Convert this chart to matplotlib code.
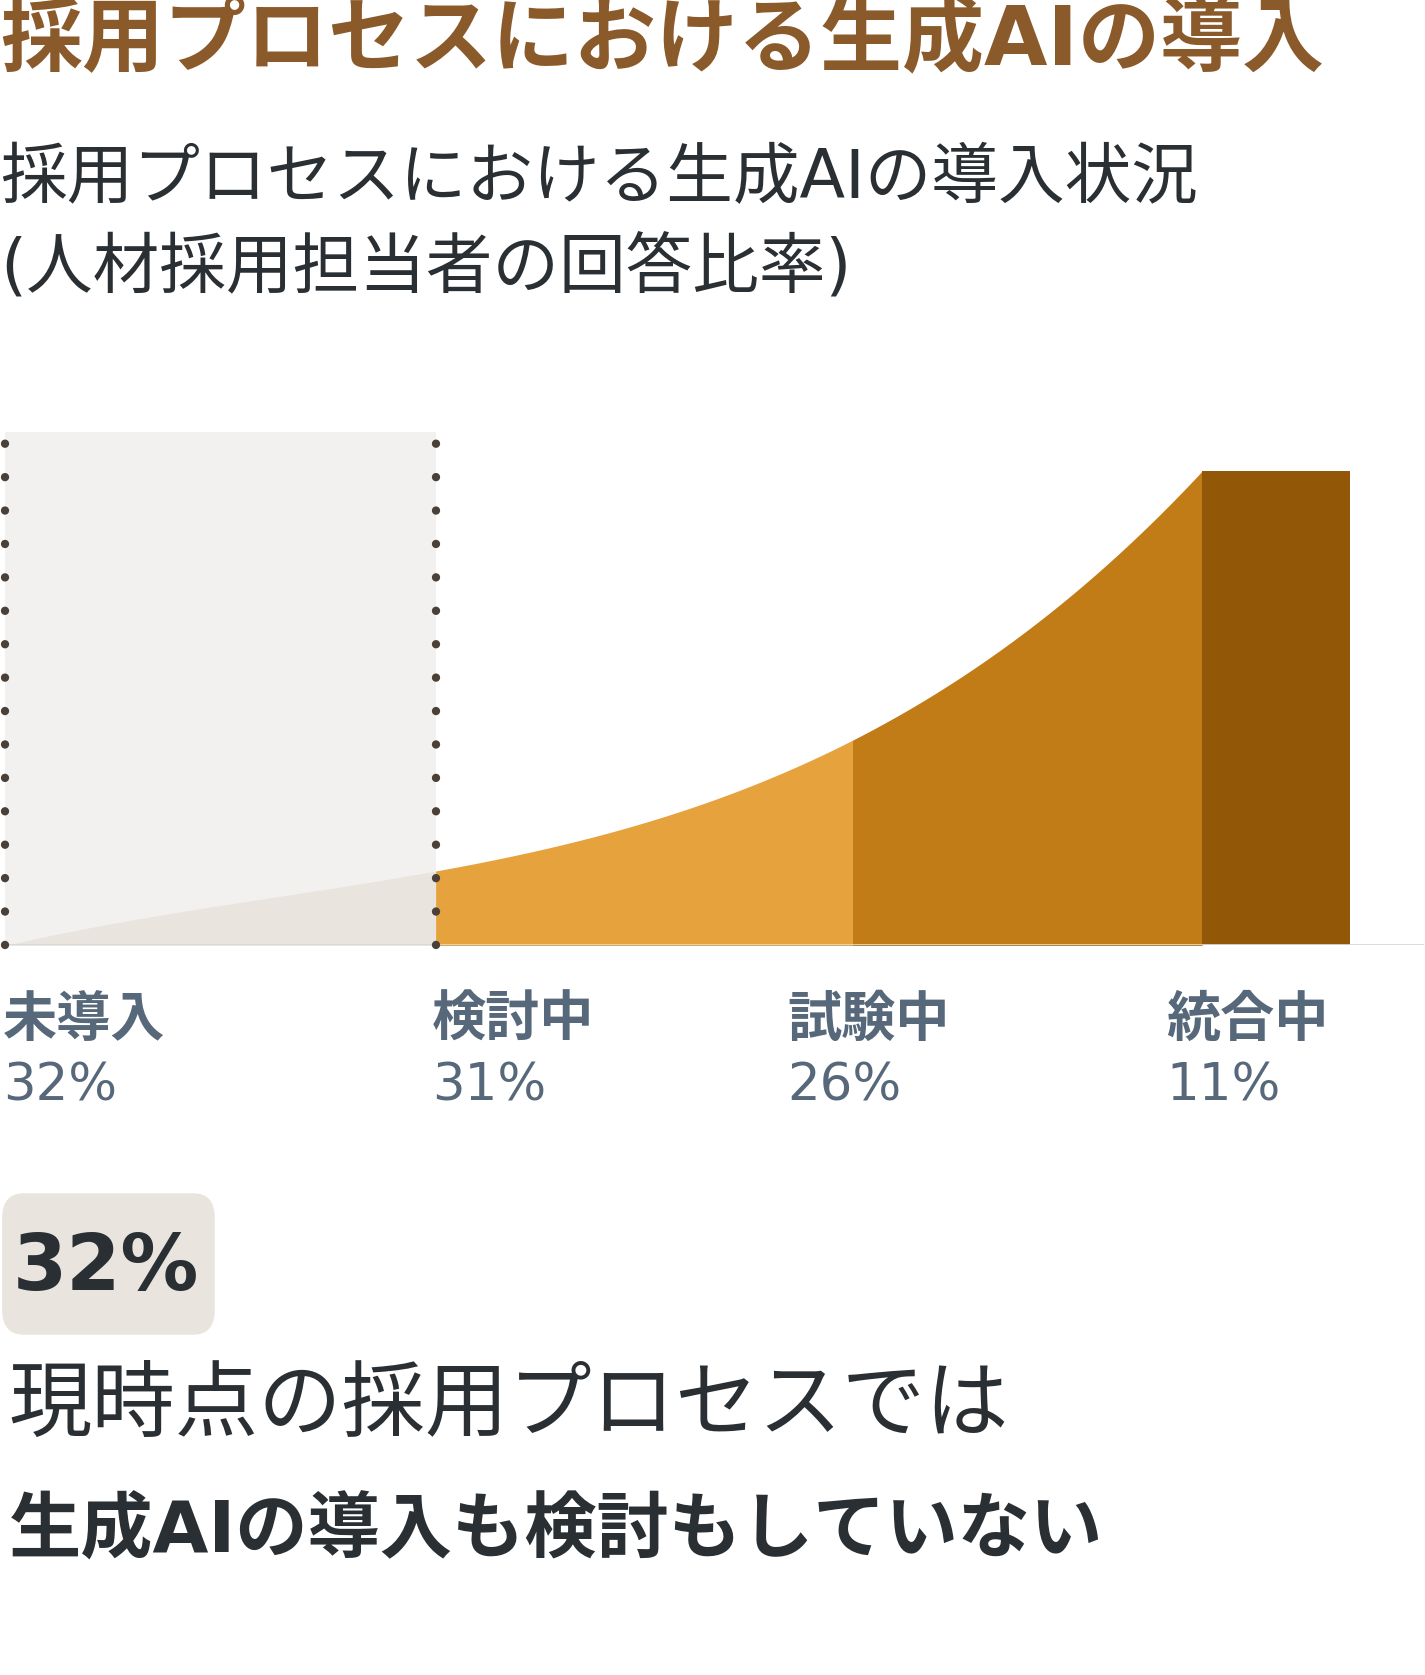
import numpy as np
import matplotlib.pyplot as plt
from matplotlib.patches import FancyBboxPatch

plt.rcParams['font.family'] = ['DejaVu Sans', 'Noto Sans CJK JP']

# data
categories = ['未導入', '検討中', '試験中', '統合中']
shares = [32, 31, 26, 11]
edge_heights = [0, 70, 193, 446]   # curve height at each stage boundary (chart units)
colors = ['#EAE4DF', '#E5A23D', '#C17C17', '#935708']

W, H = 1425, 1675
fig = plt.figure(figsize=(W / 100, H / 100), dpi=100)
fig.patch.set_facecolor('white')

def fy(py):  # reference y (0..1575) -> figure fraction
    return 1 - py / 1575

fig.text(0.0, fy(40), '採用プロセスにおける生成AIの導入', fontsize=59, fontweight='bold',
         color='#8B5A2B', va='center', ha='left')
fig.text(0.0, fy(168), '採用プロセスにおける生成AIの導入状況', fontsize=48,
         color='#2A2F33', va='center', ha='left')
fig.text(0.0, fy(252), '(人材採用担当者の回答比率)', fontsize=48,
         color='#2A2F33', va='center', ha='left')

ax = fig.add_axes([5 / 1340, fy(889), 1334 / 1340, (889 - 400) / 1575])
ax.set_xlim(0, 105.5)
ax.set_ylim(0, 489)
ax.axis('off')

bounds = np.concatenate([[0], np.cumsum(shares)])
coef = np.polyfit(bounds[:4], edge_heights, 3)

ax.fill_between([0, bounds[1]], 0, 483, color='#F2F1EF', lw=0, zorder=1)
for i in range(3):
    xs = np.linspace(bounds[i], bounds[i + 1], 100)
    ax.fill_between(xs, 0, np.polyval(coef, xs), color=colors[i], lw=0, zorder=2)
ax.fill_between([bounds[3], bounds[4]], 0, edge_heights[3], color=colors[3], lw=0, zorder=2)

ax.axhline(0, xmin=0, xmax=1, color='#D8D8D8', lw=2, zorder=3)
for x in bounds[:2]:
    ax.plot([x, x], [0, 483], color='#4A4038', lw=6, ls=(0, (0.01, 4)),
            dash_capstyle='round', zorder=4, clip_on=False)

label_x = [3, 406, 740, 1097]
for i, (c, s) in enumerate(zip(categories, shares)):
    fig.text(label_x[i] / 1340, fy(960), c, fontsize=39, fontweight='bold',
             color='#56687A', va='center', ha='left')
    fig.text(label_x[i] / 1340, fy(1022), f'{s}%', fontsize=37,
             color='#56687A', va='center', ha='left')

box = FancyBboxPatch((2 / 1340, fy(1255)), 200 / 1340, (1255 - 1122) / 1575,
                     boxstyle='round,pad=0,rounding_size=0.015', transform=fig.transFigure,
                     facecolor='#EAE4DF', edgecolor='none')
fig.patches.append(box)
fig.text(12 / 1340, fy(1192), '32%', fontsize=56, fontweight='bold',
         color='#2A2F33', va='center', ha='left')
fig.text(8 / 1340, fy(1322), '現時点の採用プロセスでは', fontsize=60,
         color='#2A2F33', va='center', ha='left')
fig.text(8 / 1340, fy(1440), '生成AIの導入も検討もしていない', fontsize=52, fontweight='bold',
         color='#2A2F33', va='center', ha='left')

fig.savefig('out.png', dpi=100, facecolor='white')
